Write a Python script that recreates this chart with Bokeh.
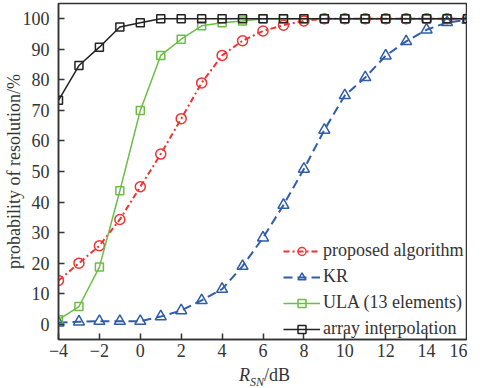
from bokeh.plotting import figure
from bokeh.models import FixedTicker, Range1d, Div
from bokeh.layouts import column
from bokeh.embed import file_html
from bokeh.resources import INLINE

snr = [-4, -3, -2, -1, 0, 1, 2, 3, 4, 5, 6, 7, 8, 9, 10, 11, 12, 13, 14, 15, 16]
proposed = [14.3, 20.0, 25.7, 34.3, 45.0, 55.7, 67.3, 79.0, 88.0, 92.8, 96.0, 97.9, 99.3, 100, 100, 100, 100, 100, 100, 100, 100]
kr = [0.5, 0.8, 1.0, 1.0, 1.0, 2.5, 4.5, 7.8, 11.5, 19.0, 28.3, 39.0, 50.8, 63.6, 74.9, 80.8, 87.9, 92.6, 96.4, 98.8, 99.6]
ula = [1.5, 5.8, 18.7, 43.7, 70.0, 88.0, 93.3, 97.7, 98.7, 99.3, 100, 100, 100, 100, 100, 100, 100, 100, 100, 100, 100]
interp = [73.3, 84.7, 90.7, 97.3, 98.7, 100, 100, 100, 100, 100, 100, 100, 100, 100, 100, 100, 100, 100, 100, 100, 100]

x_ticks = [-4, -2, 0, 2, 4, 6, 8, 10, 12, 14, 16]
y_ticks = [0, 10, 20, 30, 40, 50, 60, 70, 80, 90, 100]

FONT = "Liberation Serif"
FS = "18px"
AX = "#333333"

p = figure(width=467, height=364, output_backend="svg", toolbar_location=None,
           x_range=Range1d(-4, 16), y_range=Range1d(-5, 105),
           min_border_left=55, min_border_right=0, min_border_top=3, min_border_bottom=25)
p.grid.visible = False
p.outline_line_color = AX
p.outline_line_width = 1.5
p.background_fill_color = "white"

for ax in (p.xaxis[0], p.yaxis[0]):
    ax.axis_line_color = AX
    ax.axis_line_width = 1.5
    ax.major_tick_line_color = AX
    ax.major_tick_line_width = 1.5
    ax.major_tick_in = 6
    ax.major_tick_out = 0
    ax.minor_tick_line_color = None
    ax.major_label_text_font = FONT
    ax.major_label_text_font_size = FS
    ax.major_label_text_color = AX

p.xaxis[0].ticker = FixedTicker(ticks=x_ticks)
p.yaxis[0].ticker = FixedTicker(ticks=y_ticks)
p.xaxis[0].major_label_standoff = 4
p.yaxis[0].major_label_standoff = 9
p.xaxis[0].major_label_overrides = {t: str(t).replace("-", "\u2212") for t in x_ticks}

p.yaxis[0].axis_label = "probability of resolution/%"
p.yaxis[0].axis_label_text_font = FONT
p.yaxis[0].axis_label_text_font_size = FS
p.yaxis[0].axis_label_text_font_style = "normal"
p.yaxis[0].axis_label_text_color = AX
p.yaxis[0].axis_label_standoff = -4

RED = "#ee3333"
BLUE = "#2f5daa"
GREEN = "#6cbd45"
BLACK = "#222222"

series = [
    ("proposed algorithm", proposed, RED, "6 3 2 3", 2, "circle", 10),
    ("KR", kr, BLUE, "9 5", 2, "triangle", 11),
    ("ULA (13 elements)", ula, GREEN, "solid", 1.5, "square", 8),
    ("array interpolation", interp, BLACK, "solid", 1.5, "square", 8),
]
for name, ys, col, dash, lw, mk, sz in series:
    p.line(snr, ys, line_color=col, line_width=lw, line_dash=dash, legend_label=name)
    p.scatter(snr, ys, marker=mk, size=sz, line_color=col, line_width=1.5,
              fill_alpha=0, legend_label=name)

lg = p.legend[0]
lg.location = (225, 0)
lg.padding = 0
lg.margin = 0
lg.spacing = 5
lg.border_line_color = None
lg.background_fill_alpha = 0
lg.glyph_width = 37
lg.glyph_height = 20
lg.label_height = 20
lg.label_standoff = 3
lg.label_text_font = FONT
lg.label_text_font_size = FS
lg.label_text_color = AX

xlabel = Div(
    text=('<span style="position:absolute; left:239px; top:2px; white-space:nowrap; '
          'font-family:\'Liberation Serif\'; font-size:18px; line-height:18px; color:#333333">'
          '<i>R</i><sub style="font-size:12px; line-height:0; font-style:italic">SN</sub>/dB</span>'),
    width=467, height=8, margin=0, styles={"overflow": "visible", "position": "relative"})

layout = column(p, xlabel, spacing=0)
open("out.html", "w").write(file_html(layout, INLINE))
